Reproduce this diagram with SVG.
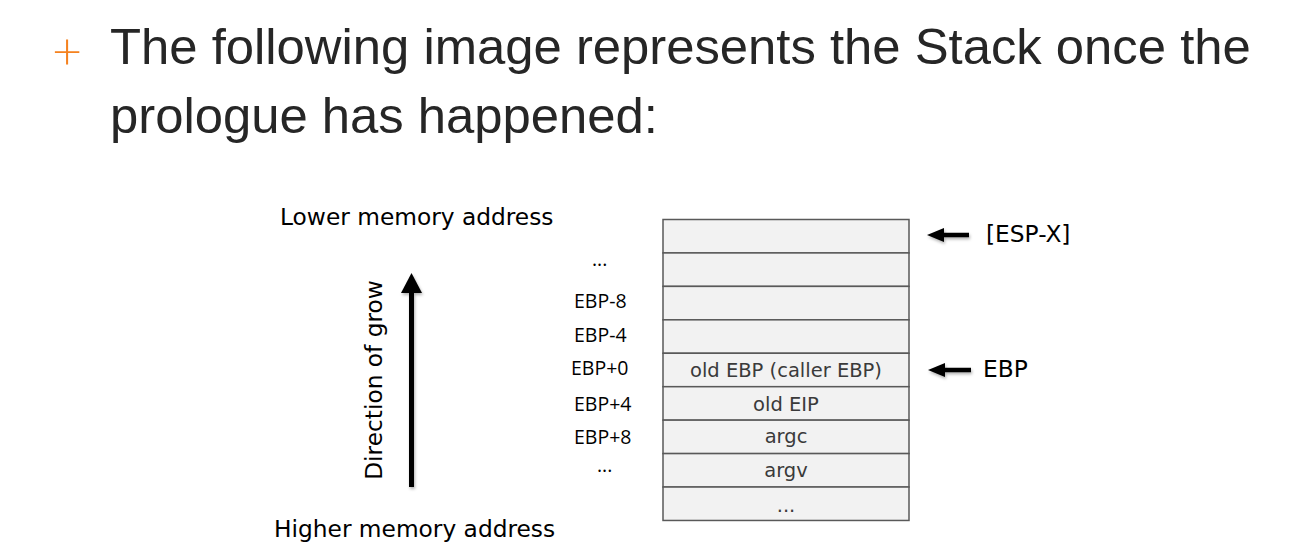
<svg xmlns="http://www.w3.org/2000/svg" width="1305" height="551" viewBox="0 0 1305 551">
  <style>
    .title { font-family: "Liberation Sans", Arial, sans-serif; font-size: 50.8px; fill: #262626; }
    .bullet { font-family: "Lato", "DejaVu Sans", sans-serif; font-weight: 300; font-size: 52px; fill: #f5821f; }
    .lbl { font-family: "DejaVu Sans", Verdana, sans-serif; font-size: 23.3px; fill: #000; }
    .off { font-family: "Open Sans", "Liberation Sans", sans-serif; font-size: 19.5px; fill: #000; }
    .cell rect { fill: #f2f2f2; stroke: #595959; stroke-width: 1.5; }
    .cell text { font-family: "DejaVu Sans", sans-serif; font-size: 19.5px; fill: #3a3a3a; text-anchor: middle; }
  </style>
  <defs>
    <filter id="soft" x="-30%" y="-30%" width="160%" height="160%">
      <feDropShadow dx="1" dy="2" stdDeviation="1.6" flood-color="#000" flood-opacity="0.3"/>
    </filter>
  </defs>

  <rect width="1305" height="551" fill="#fff"/>

  <!-- heading -->
  <g id="heading">
    <text class="bullet" x="52" y="68.5">+</text>
    <text class="title" x="110" y="64">The following image represents the Stack once the</text>
    <text class="title" x="110" y="133">prologue has happened:</text>
  </g>

  <!-- memory side labels -->
  <g id="lower-label"><text class="lbl" x="280" y="225">Lower memory address</text></g>
  <g id="higher-label"><text class="lbl" x="274" y="537">Higher memory address</text></g>
  <g id="grow-label"><text class="lbl" text-anchor="middle" transform="translate(381.5 380) rotate(-90)">Direction of grow</text></g>

  <!-- offsets relative to EBP -->
  <g id="offsets">
    <text class="off" x="592" y="266">...</text>
    <text class="off" x="574" y="308">EBP-8</text>
    <text class="off" x="574" y="342">EBP-4</text>
    <text class="off" x="571" y="375">EBP+0</text>
    <text class="off" x="574" y="411">EBP+4</text>
    <text class="off" x="574" y="444">EBP+8</text>
    <text class="off" x="597" y="472">...</text>
  </g>

  <!-- stack cells, top = lower addresses -->
  <g id="cell-0" class="cell"><rect x="663" y="219.5" width="246" height="33.44"/></g>
  <g id="cell-1" class="cell"><rect x="663" y="252.94" width="246" height="33.44"/></g>
  <g id="cell-2" class="cell"><rect x="663" y="286.38" width="246" height="33.44"/></g>
  <g id="cell-3" class="cell"><rect x="663" y="319.82" width="246" height="33.44"/></g>
  <g id="cell-4" class="cell"><rect x="663" y="353.26" width="246" height="33.44"/><text x="786" y="376.7">old EBP (caller EBP)</text></g>
  <g id="cell-5" class="cell"><rect x="663" y="386.7" width="246" height="33.44"/><text x="786" y="410.7">old EIP</text></g>
  <g id="cell-6" class="cell"><rect x="663" y="420.14" width="246" height="33.44"/><text x="786" y="443.3">argc</text></g>
  <g id="cell-7" class="cell"><rect x="663" y="453.58" width="246" height="33.44"/><text x="786" y="476.7">argv</text></g>
  <g id="cell-8" class="cell"><rect x="663" y="487.02" width="246" height="33.44"/><text x="786" y="511.7">...</text></g>

  <!-- pointer labels -->
  <g id="esp-label"><text class="lbl" x="986" y="242">[ESP-X]</text></g>
  <g id="ebp-label"><text class="lbl" x="983" y="377">EBP</text></g>

  <!-- arrows -->
  <g id="connectors" filter="url(#soft)">
    <g id="grow-arrow">
      <line x1="411.5" y1="487" x2="411.5" y2="290" stroke="#000" stroke-width="5"/>
      <polygon points="411.5,273 401,293 422,293" fill="#000"/>
    </g>
    <g id="esp-arrow">
      <line x1="969" y1="235" x2="940" y2="235" stroke="#000" stroke-width="4.5"/>
      <polygon points="927,235 944,228 944,242" fill="#000"/>
    </g>
    <g id="ebp-arrow">
      <line x1="971" y1="370" x2="941" y2="370" stroke="#000" stroke-width="4.5"/>
      <polygon points="928,370 945,363 945,377" fill="#000"/>
    </g>
  </g>
</svg>
